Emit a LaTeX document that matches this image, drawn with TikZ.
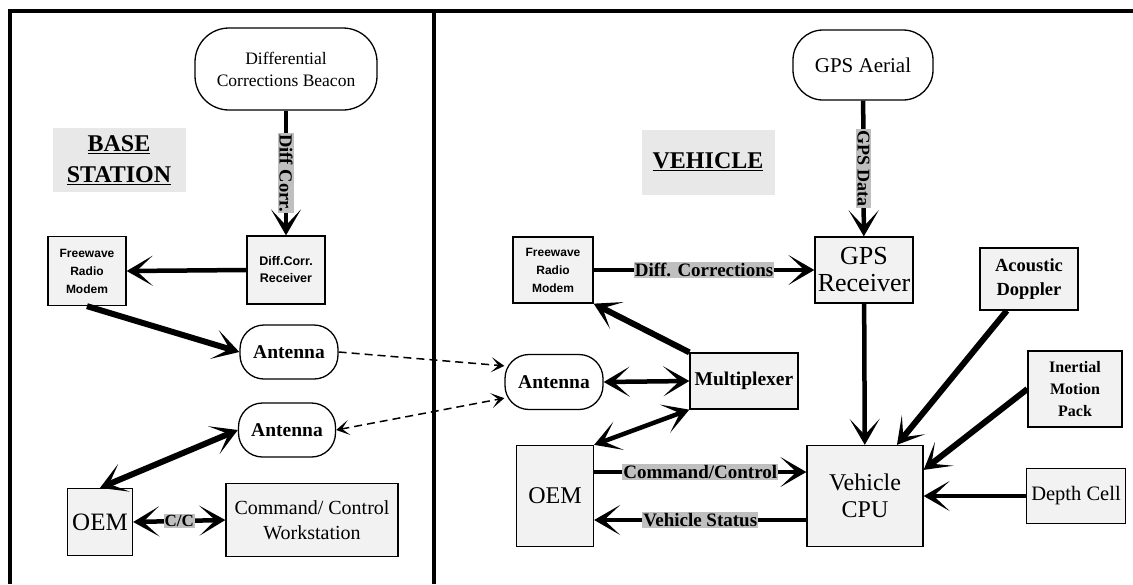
\documentclass[tikz,border=0pt]{standalone}
\usepackage{fontspec}
\setmainfont{Liberation Serif}
\newfontfamily\smallsans{Liberation Sans}
\usetikzlibrary{arrows.meta}
\newcommand\fz[2]{\fontsize{#1}{#2}\selectfont}
\tikzset{
  box/.style={draw, line width=1.3pt, fill=gray!10, align=center, inner sep=1pt},
  pill/.style={draw, line width=1.3pt, fill=white, rounded corners=#1, align=center, inner sep=1pt},
  pill/.default=24pt,
  title/.style={fill=gray!18, align=center, font=\bfseries\fz{24}{31}},
  lab/.style={fill=gray!50, inner sep=1pt, font=\bfseries\fz{19}{19}},
  modem/.style={font=\smallsans\bfseries\fz{12}{18}},
  conn/.style={line width=4.5pt},
  heavy/.style={line width=6pt},
  radio/.style={line width=1.5pt, dash pattern=on 8pt off 5pt},
  >={Stealth[length=26pt,width=30pt,inset=16pt]},
  dtip/.tip={Stealth[length=13pt,width=15pt,inset=7pt]}
}
\begin{document}
\begin{tikzpicture}[x=1pt,y=-1pt]
\useasboundingbox (0,0) rectangle (1133,584);
% frame
\draw[line width=4pt] (8,11) -- (1133,11);
\draw[line width=4pt] (10,9) -- (10,584);
\draw[line width=4pt] (434,9) -- (434,584);

% ---------- base station ----------
\node[pill=34pt, minimum width=182pt, minimum height=82pt, font=\fz{17.5}{22}] (beacon) at (286,69) {Differential\\Corrections Beacon};
\node[title, minimum width=133pt, minimum height=64pt] (basel) at (119,160) {\underline{BASE}\\\underline{STATION}};
\node[box, minimum width=78pt, minimum height=68pt, font=\smallsans\bfseries\fz{12.5}{17}] (dcr) at (286,270) {Diff.Corr.\\Receiver};
\node[box, modem, minimum width=78pt, minimum height=69pt] (fwb) at (87,271) {Freewave\\Radio\\Modem};
\node[pill, minimum width=98pt, minimum height=54pt, font=\bfseries\fz{19.5}{19.5}] (bant1) at (289,352) {Antenna};
\node[pill, minimum width=97pt, minimum height=54pt, font=\bfseries\fz{19.5}{19.5}] (bant2) at (287,430) {Antenna};
\node[box, minimum width=65pt, minimum height=67pt, font=\fz{25}{25}] (oemb) at (100,522) {OEM};
\node[box, minimum width=172pt, minimum height=73pt, font=\fz{20}{25}] (ccw) at (312,520) {Command/ Control\\Workstation};

\draw[conn,->] (beacon) -- node[lab, rotate=-90, font=\bfseries\fz{18.5}{18.5}] {Diff Corr.} (dcr);
\draw[conn,->] (dcr.west) -- (fwb.east);
\draw[heavy,->] (fwb.south) -- (bant1.west);
\draw[heavy,<->] (oemb.north) -- (bant2.west);
\draw[conn,<->] (oemb.east) -- node[lab, font=\bfseries\fz{17}{17}] {C/C} (ccw.west);

% ---------- vehicle ----------
\node[title, minimum width=133pt, minimum height=65pt] (vehl) at (708,162) {\underline{VEHICLE}};
\node[pill=30pt, minimum width=140pt, minimum height=70pt, font=\fz{21}{21}] (gpsa) at (863,65) {GPS Aerial};
\node[box, minimum width=98pt, minimum height=66pt, font=\fz{26}{27}] (gpsr) at (864,270) {GPS\\Receiver};
\node[box, minimum width=98pt, minimum height=62pt, font=\bfseries\fz{18.5}{24}] (acd) at (1029,279) {Acoustic\\Doppler};
\node[box, modem, minimum width=80pt, minimum height=66pt] (fwv) at (553,270) {Freewave\\Radio\\Modem};
\node[box, minimum width=108pt, minimum height=56pt, font=\bfseries\fz{19.5}{19.5}] (mux) at (744,381) {Multiplexer};
\node[pill, minimum width=98pt, minimum height=55pt, font=\bfseries\fz{19.5}{19.5}] (vant) at (554,382) {Antenna};
\node[box, minimum width=77pt, minimum height=101pt, font=\fz{24}{24}] (oemv) at (555,496) {OEM};
\node[box, minimum width=116pt, minimum height=101pt, font=\fz{24}{27}] (cpu) at (865,496) {Vehicle\\CPU};
\node[box, minimum width=94pt, minimum height=76pt, font=\bfseries\fz{16}{22}] (imp) at (1075,389) {Inertial\\Motion\\Pack};
\node[box, minimum width=99pt, minimum height=55pt, font=\fz{20.5}{20.5}] (depth) at (1076,496) {Depth Cell};

\draw[conn,->] (gpsa) -- node[lab, rotate=-90, font=\bfseries\fz{18}{18}] {GPS Data} (gpsr);
\draw[conn,->] (fwv.east) -- node[lab] {Diff. Corrections} (gpsr.west);
\draw[heavy,->] (mux.north west) -- (fwv.south east);
\draw[conn,<->] (vant.east) -- (mux.west);
\draw[conn,<->] (mux.south west) -- (oemv.north east);
\draw[conn,->] ([yshift=24pt]oemv.east) -- node[lab] {Command/Control} ([yshift=24pt]cpu.west);
\draw[conn,->] ([yshift=-24pt]cpu.west) -- node[lab] {Vehicle Status} ([yshift=-24pt]oemv.east);
\draw[conn,->] (gpsr) -- (cpu);
\draw[heavy,->] (acd.235) -- (cpu.58);
\draw[heavy,->] (imp.west) -- (cpu.24);
\draw[conn,->] (depth) -- (cpu);

% radio links
\draw[radio,-dtip] (bant1.east) -- (vant.162);
\draw[radio,dtip-dtip] (bant2.east) -- (vant.198);
\end{tikzpicture}
\end{document}
